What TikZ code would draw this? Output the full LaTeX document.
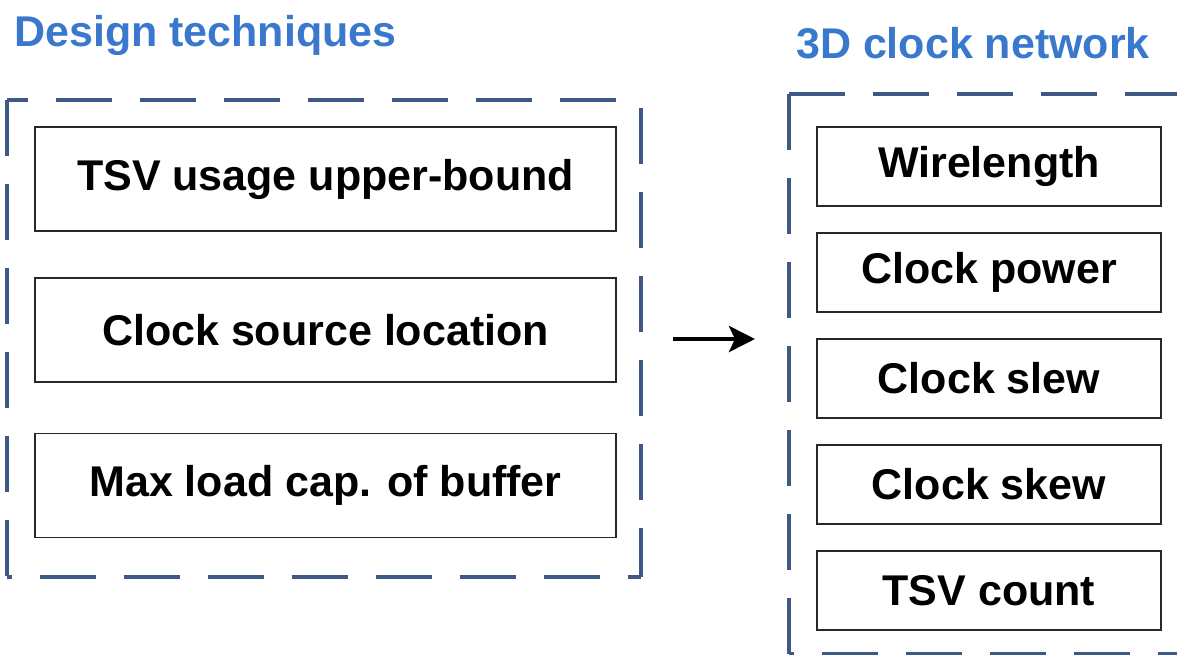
\documentclass[tikz,border=0pt]{standalone}
\usepackage{fontspec}
\setmainfont{Liberation Sans}
\usetikzlibrary{arrows.meta}
\definecolor{titleblue}{RGB}{58,120,206}
\definecolor{dashblue}{RGB}{62,89,133}
\definecolor{boxline}{RGB}{40,40,40}
\tikzset{
  boxnode/.style={draw=boxline, line width=1.7pt, rectangle, inner sep=0pt,
    font=\fontsize{43}{50}\selectfont\bfseries, text=black},
  lbox/.style={boxnode, minimum width=581pt, minimum height=104pt},
  rbox/.style={boxnode, minimum width=344pt, minimum height=79pt},
  titletext/.style={anchor=base west, inner sep=0pt, text=titleblue,
    font=\fontsize{43}{50}\selectfont\bfseries},
  groupline/.style={draw=dashblue, line width=3.6pt, dash pattern=on 56pt off 28pt},
  flowarrow/.style={line width=4.5pt, -{Stealth[length=26pt,width=26pt,inset=6pt]}}
}
\begin{document}
\begin{tikzpicture}[x=1pt,y=-1pt]
\useasboundingbox (0,0) rectangle (1177,655);
\clip (0,0) rectangle (1177,655);

% titles
\node[titletext] (t1) at (14,47) {Design techniques};
\node[titletext] (t2) at (796,59) {3D clock network};

% group frames (as nodes for naming)
\node[inner sep=0pt, minimum width=634pt, minimum height=477pt] (design) at (324,338.5) {};
\node[inner sep=0pt, minimum width=420pt, minimum height=560pt] (clock) at (999,374) {};

% left dashed frame, side by side
\draw[groupline, dash phase=35pt] (design.north west) -- (design.north east);
\draw[groupline, dash phase=76pt] (design.north east) -- (design.south east);
\draw[groupline, dash phase=51pt] (design.south west) -- (design.south east);
\draw[groupline, dash phase=0pt]  (design.north west) -- (design.south west);

% right dashed frame
\draw[groupline, dash phase=0pt]  (clock.north west) -- (clock.north east);
\draw[groupline, dash phase=0pt]  (clock.north west) -- (clock.south west);
\draw[groupline, dash phase=51pt] (clock.south west) -- (clock.south east);

% left boxes
\node[lbox] (tsvub) at (325.5,179) {TSV usage upper-bound};
\node[lbox] (src)   at (325.5,330) {Clock source location};
\node[lbox] (cap)   at (325.5,485.5) {Max load cap. of buffer};

% right boxes
\node[rbox] (wl)   at (989,166.5) {Wirelength};
\node[rbox] (pow)  at (989,272.5) {Clock power};
\node[rbox] (slew) at (989,378.5) {Clock slew};
\node[rbox] (skew) at (989,484.5) {Clock skew};
\node[rbox] (tsvc) at (989,590.5) {TSV count};

% arrow
\coordinate (afrom) at (673,339);
\coordinate (ato) at (755,339);
\draw[flowarrow] (afrom) -- (ato);
\end{tikzpicture}
\end{document}
